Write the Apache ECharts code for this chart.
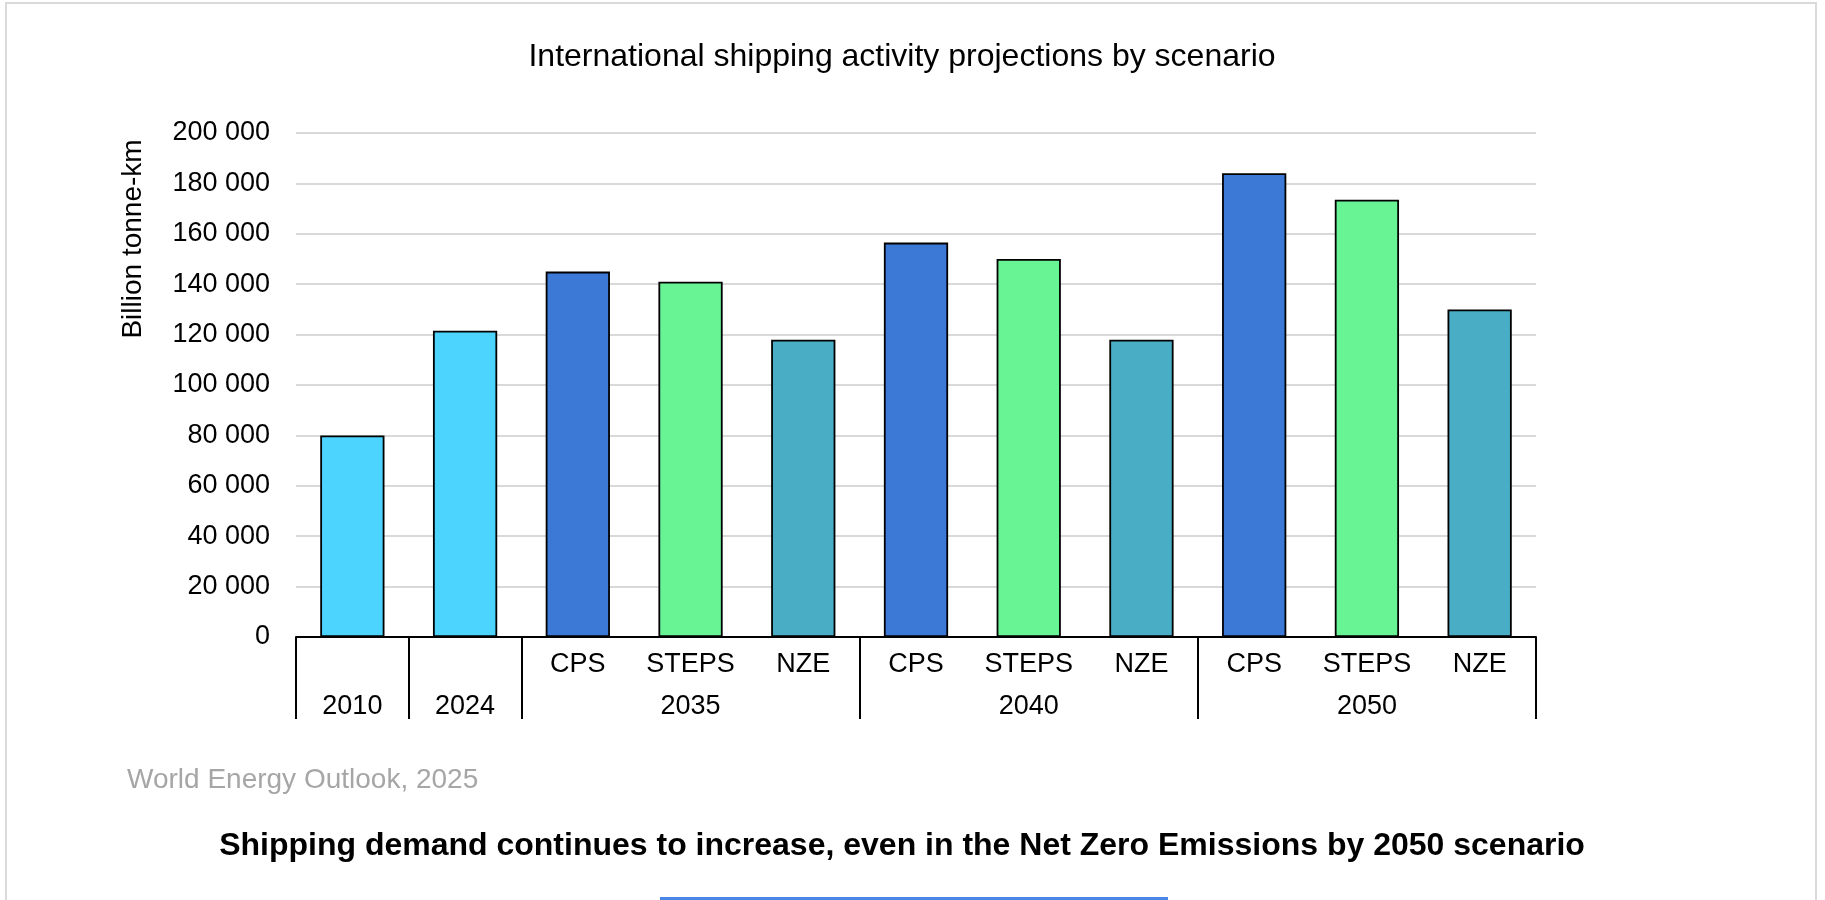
<!DOCTYPE html>
<html>
<head>
<meta charset="utf-8">
<title>International shipping activity projections by scenario</title>
<script src="https://cdn.jsdelivr.net/npm/echarts@6/dist/echarts.min.js"></script>
<style>
  html, body { margin: 0; padding: 0; background: #ffffff; }
  #chart { width: 1825px; height: 900px; }
</style>
</head>
<body>
<div id="chart"></div>
<script>
// Year groups and the scenarios shown under each year ('' = historical year)
const groupYears = ['2010', '2024', '2035', '2040', '2050'];
const groupScenarios = [
  [''],
  [''],
  ['CPS', 'STEPS', 'NZE'],
  ['CPS', 'STEPS', 'NZE'],
  ['CPS', 'STEPS', 'NZE']
];
// Shipping activity, billion tonne-km, in the same order as the groups above
const activity = [80000, 121500, 145000, 141000, 118000, 156500, 150000, 118000, 184000, 173500, 130000];
// Value axis ticks
const yMin = 0;
const yMax = 200000;
const yStep = 20000;

const FONT = '"Liberation Sans", Arial, Helvetica, sans-serif';
const scenarioColors = { '': '#4DD4FE', CPS: '#3C78D6', STEPS: '#68F394', NZE: '#4AADC6' };

// Flatten groups into one category list, remembering group boundaries and centres
const subLabels = [];
const yearLabels = [];
const boundaries = new Set();
groupYears.forEach(function (year, g) {
  const subs = groupScenarios[g];
  boundaries.add(subLabels.length);
  const mid = Math.floor(subs.length / 2);
  subs.forEach(function (s, i) {
    subLabels.push(s);
    yearLabels.push(i === mid ? year : '');
  });
});
const barData = activity.map(function (v, i) {
  return { value: v, itemStyle: { color: scenarioColors[subLabels[i]] } };
});

function spaced(v) {
  return String(v).replace(/\B(?=(\d{3})+(?!\d))/g, ' ');
}

const chart = echarts.init(document.getElementById('chart'), null, { renderer: 'canvas' });
chart.setOption({
  animation: false,
  backgroundColor: '#ffffff',
  textStyle: { fontFamily: FONT },
  grid: { left: 296, right: 289, top: 133, bottom: 263, containLabel: false },
  xAxis: [
    {
      type: 'category',
      data: subLabels,
      position: 'bottom',
      axisLine: { show: true, lineStyle: { color: '#000000', width: 2 } },
      axisTick: {
        show: true,
        length: 82,
        interval: function (index) { return boundaries.has(index); },
        lineStyle: { color: '#000000', width: 2 }
      },
      axisLabel: {
        interval: 0,
        margin: 14,
        color: '#000000',
        fontSize: 27,
        fontFamily: FONT
      },
      splitLine: { show: false }
    },
    {
      type: 'category',
      data: yearLabels,
      position: 'bottom',
      gridIndex: 0,
      axisLine: { show: false },
      axisTick: { show: false },
      axisLabel: {
        interval: 0,
        margin: 56,
        color: '#000000',
        fontSize: 27,
        fontFamily: FONT
      },
      splitLine: { show: false }
    }
  ],
  yAxis: {
    type: 'value',
    min: yMin,
    max: yMax,
    interval: yStep,
    axisLine: { show: false },
    axisTick: { show: false },
    axisLabel: {
      margin: 26,
      color: '#000000',
      fontSize: 27,
      fontFamily: FONT,
      formatter: spaced
    },
    splitLine: { show: true, lineStyle: { color: '#D9D9D9', width: 2 } }
  },
  series: [
    {
      type: 'bar',
      xAxisIndex: 0,
      barWidth: '57%',
      data: barData,
      itemStyle: { borderColor: '#000000', borderWidth: 1.8 }
    }
  ],
  graphic: [
    {
      type: 'rect',
      shape: { x: 6, y: 3, width: 1810, height: 910 },
      style: { fill: 'none', stroke: '#DADADA', lineWidth: 2 },
      silent: true,
      z: -10
    },
    {
      type: 'text',
      x: 902, y: 57,
      style: {
        text: 'International shipping activity projections by scenario',
        fontSize: 32, fontFamily: FONT, fill: '#000000',
        align: 'center', verticalAlign: 'middle'
      }
    },
    {
      type: 'text',
      x: 133, y: 239,
      rotation: Math.PI / 2,
      style: {
        text: 'Billion tonne-km',
        fontSize: 28, fontFamily: FONT, fill: '#000000',
        align: 'center', verticalAlign: 'middle'
      }
    },
    {
      type: 'text',
      x: 127, y: 780,
      style: {
        text: 'World Energy Outlook, 2025',
        fontSize: 28, fontFamily: FONT, fill: '#A6A6A6',
        align: 'left', verticalAlign: 'middle'
      }
    },
    {
      type: 'text',
      x: 902, y: 846,
      style: {
        text: 'Shipping demand continues to increase, even in the Net Zero Emissions by 2050 scenario',
        fontSize: 32, fontWeight: 'bold', fontFamily: FONT, fill: '#000000',
        align: 'center', verticalAlign: 'middle'
      }
    },
    {
      type: 'rect',
      shape: { x: 660, y: 897, width: 508, height: 3 },
      style: { fill: '#4A86E8' },
      silent: true
    }
  ]
});
</script>
</body>
</html>
